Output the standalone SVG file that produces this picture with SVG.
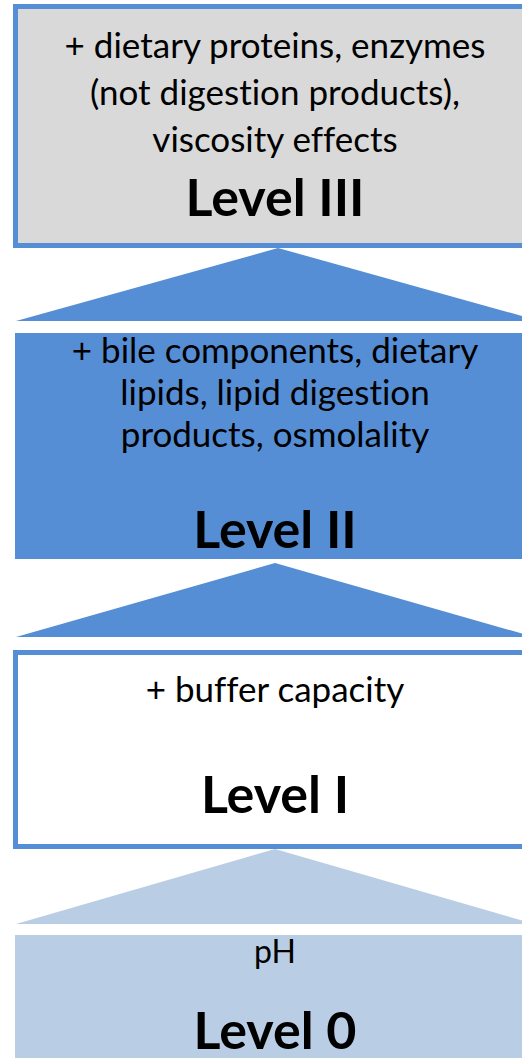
<svg xmlns="http://www.w3.org/2000/svg" width="522" height="1058" viewBox="0 0 522 1058">
<style>
.t{font-family:Lato,"Open Sans","Liberation Sans",sans-serif;font-size:35px;fill:#000;text-anchor:middle;font-variant-ligatures:none}
.h{font-family:Lato,"Open Sans","Liberation Sans",sans-serif;font-size:52px;font-weight:bold;fill:#000;text-anchor:middle}
</style>
<rect width="522" height="1058" fill="#fff"/>
<g id="connectors">
<polygon points="278,248 16,321 540,321" fill="#558ED5"/>
<polygon points="275,563 16,637 534,637" fill="#558ED5"/>
<polygon points="275,849 16,924 534,924" fill="#B9CDE5"/>
</g>
<g id="level3">
<rect x="15.5" y="6.5" width="520" height="239" fill="#D9D9D9" stroke="#558ED5" stroke-width="5"/>
<text class="t" x="275" y="58">+ dietary proteins, enzymes</text>
<text class="t" x="275" y="105">(not digestion products),</text>
<text class="t" x="275" y="152">viscosity effects</text>
<text class="h" x="275" y="216">Level III</text>
</g>
<g id="level2">
<rect x="15" y="333" width="520" height="226" fill="#558ED5"/>
<text class="t" x="275" y="363">+ bile components, dietary</text>
<text class="t" x="275" y="405">lipids, lipid digestion</text>
<text class="t" x="275" y="447">products, osmolality</text>
<text class="h" x="275" y="548">Level II</text>
</g>
<g id="level1">
<rect x="15.5" y="652.5" width="520" height="194" fill="#fff" stroke="#558ED5" stroke-width="5"/>
<text class="t" x="275" y="702">+ buffer capacity</text>
<text class="h" x="275" y="813">Level I</text>
</g>
<g id="level0">
<rect x="15" y="935" width="520" height="130" fill="#B9CDE5"/>
<text class="t" x="275" y="963" style="font-size:32px">pH</text>
<text class="h" x="275" y="1049">Level 0</text>
</g>
</svg>
